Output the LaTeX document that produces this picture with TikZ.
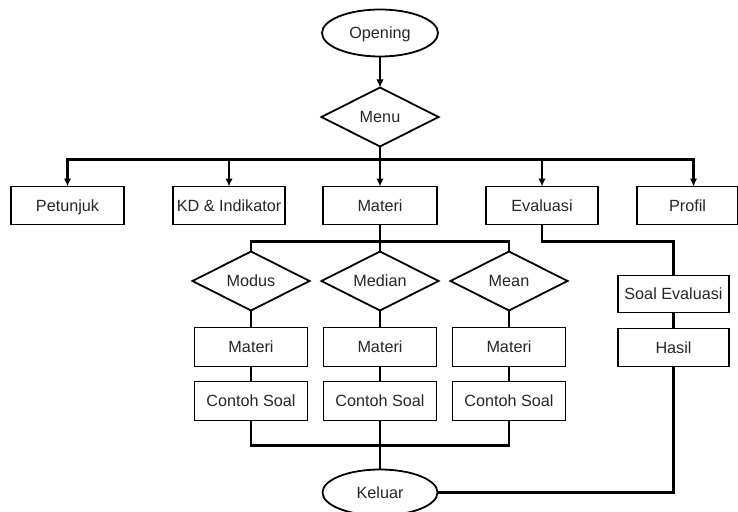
\documentclass[tikz,border=0pt]{standalone}
\usepackage{fontspec}
\setmainfont{Liberation Sans}
\usetikzlibrary{arrows.meta, shapes, positioning, calc}

\begin{document}
\begin{tikzpicture}
  [> = {Latex[length=8pt, width=7.5pt]}, x=1pt, y=1pt,
    font=\fontsize{16.2}{19}\selectfont,
    block/.style ={
        rectangle,
        draw=black,
        line width=1.8pt,
        inner sep=0pt, outer sep=0pt,
        text height=11.6pt, text depth=0pt,
        minimum height=38pt,
        text=black!85,
      },
    choice/.style ={
        diamond, aspect=2,
        draw=black,
        line width=1.8pt,
        inner sep=0pt, outer sep=0pt,
        text height=11.6pt, text depth=0pt,
        minimum width=117pt, minimum height=59pt,
        text=black!85,
      },
    terminal/.style ={
        ellipse,
        draw=black,
        line width=1.8pt,
        inner sep=0pt, outer sep=0pt,
        text height=11.6pt, text depth=0pt,
        minimum width=116pt, minimum height=47pt,
        text=black!85,
      },
    link/.style ={line width=2.6pt},
  ]
  \useasboundingbox (0,0) rectangle (738,-511);

  \node[terminal] (opening) at (380,-33) {Opening};
  \node[choice, below=31pt of opening] (menu) {Menu};

  % main menu row
  \node[block, minimum width=114pt, below=40pt of menu] (materi) {Materi};
  \node[block, minimum width=112pt, left=38pt of materi] (kd) {KD \& Indikator};
  \node[block, minimum width=113pt, left=49pt of kd] (petunjuk) {Petunjuk};
  \node[block, minimum width=112pt, right=49pt of materi] (evaluasi) {Evaluasi};
  \node[block, minimum width=101pt, right=39pt of evaluasi] (profil) {Profil};

  \coordinate (bus) at ($(menu.south)+(0,-13)$);
  \coordinate (profiltop) at ($(profil.north)+(6,0)$);

  \draw[link, ->] (opening) -- (menu);
  \draw[link] (menu.south) -- (bus);
  \draw[link, line cap=rect] (petunjuk.north |- bus) -- (profiltop |- bus);
  \foreach \n in {petunjuk, kd, materi, evaluasi}
    \draw[link, ->] (\n.north |- bus) -- (\n.north);
  \draw[link, ->] (profiltop |- bus) -- (profiltop);

  % materi branch
  \node[choice, below=27pt of materi] (median) {Median};
  \node[choice, left=12pt of median] (modus) {Modus};
  \node[choice, right=12pt of median] (mean) {Mean};

  \coordinate (split) at ($(materi.south)+(0,-17)$);
  \draw[link] (materi.south) -- (split);
  \draw[link, line cap=rect] (modus.north |- split) -- (mean.north |- split);
  \foreach \n in {modus, median, mean}
    \draw[link] (\n.north |- split) -- (\n.north);

  \foreach \d/\i in {modus/1, median/2, mean/3} {
    \node[block, minimum width=113pt, minimum height=39pt, below=17pt of \d] (materi\i) {Materi};
    \node[block, minimum width=113pt, minimum height=39pt, below=15pt of materi\i] (contoh\i) {Contoh Soal};
    \draw[link] (\d.south) -- (materi\i.north);
    \draw[link] (materi\i.south) -- (contoh\i.north);
  }

  \coordinate (join) at ($(contoh2.south)+(0,-25)$);
  \draw[link, line cap=rect] (contoh1.south |- join) -- (contoh3.south |- join);
  \foreach \i in {1, 2, 3}
    \draw[link] (contoh\i.south) -- (contoh\i.south |- join);

  \node[terminal, minimum width=115pt, minimum height=46pt, below=24pt of join] (keluar) {Keluar};
  \draw[link] (join) -- (keluar.north);

  % evaluasi branch
  \node[block, minimum width=111pt, minimum height=37pt, below=51pt of profil, xshift=-14pt] (soalev) {Soal Evaluasi};
  \node[block, minimum width=111pt, below=16pt of soalev] (hasil) {Hasil};

  \draw[link] (evaluasi.south) -- ++(0,-17) -| (soalev.north);
  \draw[link] (soalev.south) -- (hasil.north);
  \draw[link] (hasil.south) |- (keluar.east);
\end{tikzpicture}
\end{document}
